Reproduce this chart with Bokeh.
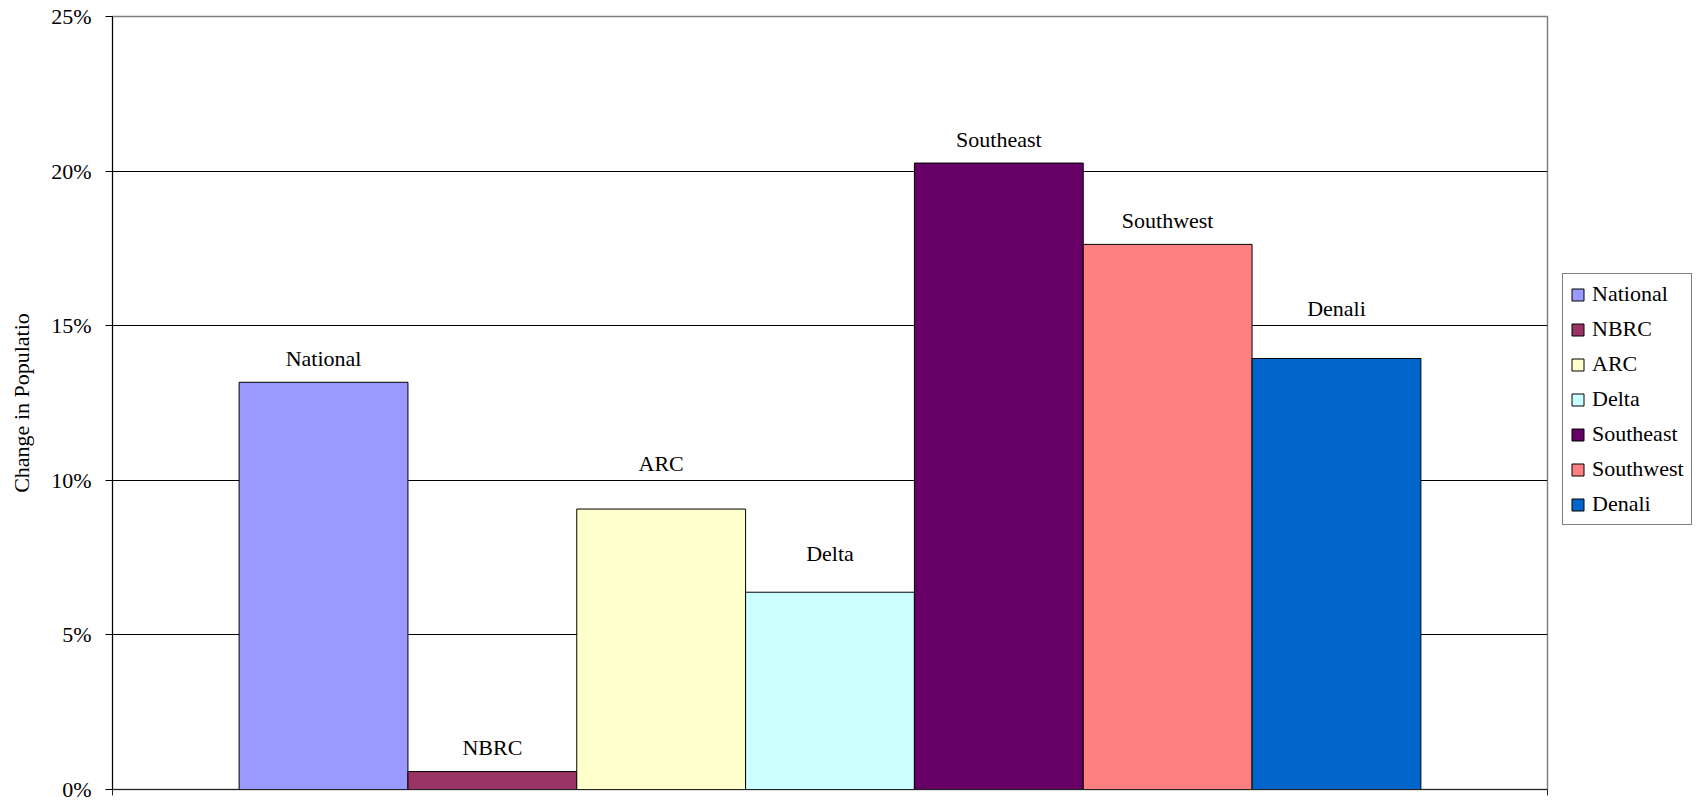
from bokeh.plotting import figure
from bokeh.layouts import row
from bokeh.core.properties import value
from bokeh.models import (ColumnDataSource, FixedTicker, NumeralTickFormatter, Legend,
                          LegendItem, LabelSet, Range1d, CustomJSTickFormatter)
from bokeh.embed import file_html
from bokeh.resources import INLINE

# ---- data ----
regions = ["National", "NBRC", "ARC", "Delta", "Southeast", "Southwest", "Denali"]
changes = [0.1317, 0.0058, 0.0907, 0.0638, 0.2026, 0.1763, 0.1394]
y_ticks = [0.0, 0.05, 0.10, 0.15, 0.20, 0.25]

# ---- styles / layout ----
colors = ["#9999FF", "#993366", "#FFFFCC", "#CCFFFF", "#660066", "#FF8080", "#0066CC"]
label_offsets = [16, 17, 38, 31, 16, 16, 42]  # px above bar top (label baseline)
FONT = "Liberation Serif"
gap = 0.75
xs = [gap + 0.5 + i for i in range(len(regions))]
x_end = len(regions) + 2 * gap

src = ColumnDataSource(dict(x=xs, top=changes, region=regions, color=colors, off=label_offsets))

p = figure(width=1552, height=801, x_range=Range1d(0, x_end), y_range=Range1d(0, y_ticks[-1]),
           output_backend="svg", toolbar_location=None,
           min_border_top=16, min_border_left=112, min_border_right=5, min_border_bottom=12)
p.title.visible = False
p.background_fill_color = "white"
p.border_fill_color = "white"
p.outline_line_color = "#808080"
p.outline_line_width = 1.5

r = p.vbar(x="x", top="top", width=1.0, bottom=0, source=src,
           fill_color="color", line_color="black", line_width=1)

labels = LabelSet(x="x", y="top", text="region", y_offset="off", source=src,
                  text_align="center", text_baseline="alphabetic",
                  text_font=value(FONT), text_font_size="22px", text_color="black")
p.add_layout(labels)

# y axis
yax = p.yaxis[0]
yax.ticker = FixedTicker(ticks=y_ticks)
yax.formatter = NumeralTickFormatter(format="0%")
yax.major_tick_out = 7
yax.major_tick_in = 0
yax.minor_tick_out = 0
yax.minor_tick_in = 0
yax.major_label_text_font = FONT
yax.major_label_text_font_size = "22px"
yax.major_label_text_color = "black"
yax.major_label_standoff = 14
yax.axis_label = "Change in Populatio"
yax.axis_label_text_font = FONT
yax.axis_label_text_font_size = "22px"
yax.axis_label_text_font_style = "normal"
yax.axis_label_text_color = "black"
yax.axis_label_standoff = 14
yax.axis_line_color = "black"
yax.major_tick_line_color = "black"

# x axis (only end ticks, no labels)
xax = p.xaxis[0]
xax.ticker = FixedTicker(ticks=[0, x_end])
xax.formatter = CustomJSTickFormatter(code="return ''")
xax.major_tick_out = 6
xax.major_tick_in = 0
xax.minor_tick_out = 0
xax.minor_tick_in = 0
xax.major_label_standoff = 0
xax.axis_line_color = "#222222"
xax.major_tick_line_color = "#222222"

p.xgrid.visible = False
p.ygrid.ticker = FixedTicker(ticks=y_ticks[1:-1])
p.ygrid.grid_line_color = "black"
p.ygrid.grid_line_width = 1

# ---- legend panel (separate figure to the right) ----
lp = figure(width=146, height=801, x_range=Range1d(100, 101), y_range=Range1d(50, 51),
            output_backend="svg", toolbar_location=None, min_border=0)
lp.title.visible = False
lp.axis.visible = False
lp.grid.visible = False
lp.outline_line_color = None
lp.background_fill_color = "white"
lp.border_fill_color = "white"
lr = lp.vbar(x="x", top="top", width=1.0, bottom=0, source=src,
             fill_color="color", line_color="black", line_width=1)
lr.visible = False

items = [LegendItem(label=regions[i], renderers=[lr], index=i) for i in range(len(regions))]
legend = Legend(items=items, location=(10, 264), margin=0, padding=7,
                spacing=9, label_height=22, glyph_width=15, glyph_height=15,
                label_standoff=7, label_text_font=FONT, label_text_font_size="22px",
                label_text_color="black", border_line_color="black", border_line_width=1,
                background_fill_color="white", background_fill_alpha=1.0,
                click_policy="none")
lp.add_layout(legend)

layout = row(p, lp, spacing=0)
open("out.html", "w").write(file_html(layout, INLINE))
